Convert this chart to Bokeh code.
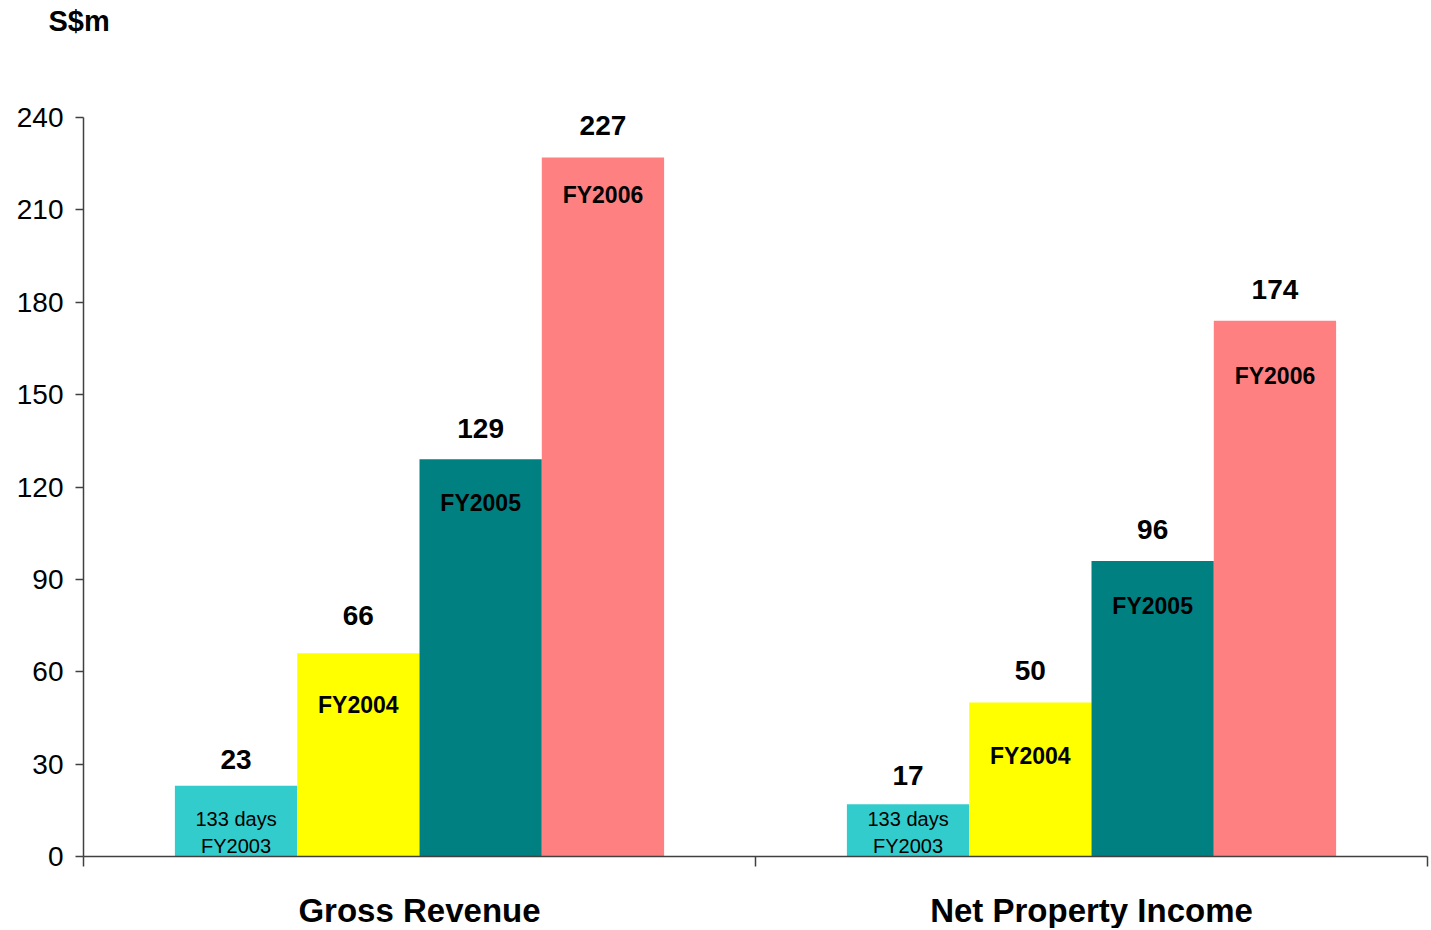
from bokeh.plotting import figure
from bokeh.models import Range1d, FixedTicker, ColumnDataSource, LabelSet, Label
from bokeh.core.properties import value
from bokeh.embed import file_html
from bokeh.resources import INLINE

# ---- data ----
categories = ["Gross Revenue", "Net Property Income"]
years = ["FY2003", "FY2004", "FY2005", "FY2006"]
fy2003 = [23, 17]
fy2004 = [66, 50]
fy2005 = [129, 96]
fy2006 = [227, 174]
series = [fy2003, fy2004, fy2005, fy2006]
y_ticks = [0, 30, 60, 90, 120, 150, 180, 210, 240]
unit_label = "S$m"
fy2003_note = "133 days"

# ---- style / layout ----
colors = ["#33CCCC", "#FFFF00", "#008080", "#FF8080"]
inner_offsets = [None, [52, 53], [44, 45], [37, 55]]  # px below bar top
value_offsets = [[26, 29], [38, 32], [31, 31], [32, 31]]  # px above bar top
FONT = "Liberation Sans"
AXIS_COLOR = "#404040"
bar_w = 0.182
W, H = 1430, 928
X0_PX, X2_PX = 83, 1427      # pixel positions of category boundaries 0 and 2
Y0_PX, YTOP_PX = 856, 117    # pixel positions of y=0 and y=240
YMAX = 240
xs_per = (X2_PX - X0_PX) / 2.0
ys_per = (Y0_PX - YTOP_PX) / YMAX

p = figure(width=W, height=H,
           x_range=Range1d(-X0_PX / xs_per, 2 + (W - X2_PX) / xs_per),
           y_range=Range1d(-(H - Y0_PX) / ys_per, YMAX + YTOP_PX / ys_per),
           output_backend="svg", toolbar_location=None,
           min_border=0, min_border_left=0, min_border_right=0,
           min_border_top=0, min_border_bottom=0)
p.outline_line_color = None
p.xgrid.visible = False
p.ygrid.visible = False
p.background_fill_color = "white"
p.border_fill_color = "white"

for i, (yr, vals) in enumerate(zip(years, series)):
    xs = [c + 0.5 + (i - 1.5) * bar_w for c in range(len(categories))]
    src = ColumnDataSource(dict(x=xs, top=vals))
    p.vbar(x="x", top="top", bottom=0, width=bar_w, source=src,
           fill_color=colors[i], line_color=None)
    for j, x in enumerate(xs):
        # value label above bar
        p.add_layout(Label(x=x, y=vals[j], text=str(vals[j]), y_offset=value_offsets[i][j],
                           text_align="center", text_baseline="middle",
                           text_font=FONT, text_font_style="bold",
                           text_font_size="28px", text_color="black"))
    if i == 0:
        for txt, off in [(fy2003_note, 38), (yr, 11)]:
            s2 = ColumnDataSource(dict(x=xs, y=[0] * len(xs), t=[txt] * len(xs)))
            p.add_layout(LabelSet(x="x", y="y", text="t", source=s2, y_offset=off,
                                  text_align="center", text_baseline="middle",
                                  text_font=value(FONT), text_font_size="20px",
                                  text_color="black"))
    else:
        for j, x in enumerate(xs):
            p.add_layout(Label(x=x, y=vals[j], text=yr, y_offset=-inner_offsets[i][j],
                               text_align="center", text_baseline="middle",
                               text_font=FONT, text_font_style="bold",
                               text_font_size="23px", text_color="black"))

# category labels below the axis
for c, name in enumerate(categories):
    p.add_layout(Label(x=c + 0.5, y=0, text=name, y_offset=-54,
                       text_align="center", text_baseline="middle",
                       text_font=FONT, text_font_style="bold",
                       text_font_size="33px", text_color="black"))

# unit label top-left
p.add_layout(Label(x=0, y=YMAX, text=unit_label, x_offset=-35, y_offset=97,
                   text_align="left", text_baseline="middle",
                   text_font=FONT, text_font_style="bold",
                   text_font_size="29px", text_color="black"))

# axes drawn at data zero
xa = p.xaxis[0]
xa.fixed_location = 0
xa.bounds = (0, 2)
xa.ticker = FixedTicker(ticks=[], minor_ticks=[0, 1, 2])
xa.major_label_text_font_size = "0px"
xa.major_tick_line_color = None
xa.minor_tick_in = 0
xa.minor_tick_out = 10
xa.minor_tick_line_color = AXIS_COLOR
xa.minor_tick_line_width = 1.5
xa.axis_line_color = AXIS_COLOR
xa.axis_line_width = 1.5

ya = p.yaxis[0]
ya.fixed_location = 0
ya.bounds = (0, YMAX)
ya.ticker = FixedTicker(ticks=y_ticks, minor_ticks=[])
ya.major_tick_in = 0
ya.major_tick_out = 8
ya.major_tick_line_color = AXIS_COLOR
ya.major_tick_line_width = 1.5
ya.minor_tick_line_color = None
ya.axis_line_color = AXIS_COLOR
ya.axis_line_width = 1.5
ya.major_label_text_font = FONT
ya.major_label_text_font_size = "28px"
ya.major_label_text_color = "black"
ya.major_label_standoff = 12

open("out.html", "w").write(file_html(p, INLINE))
